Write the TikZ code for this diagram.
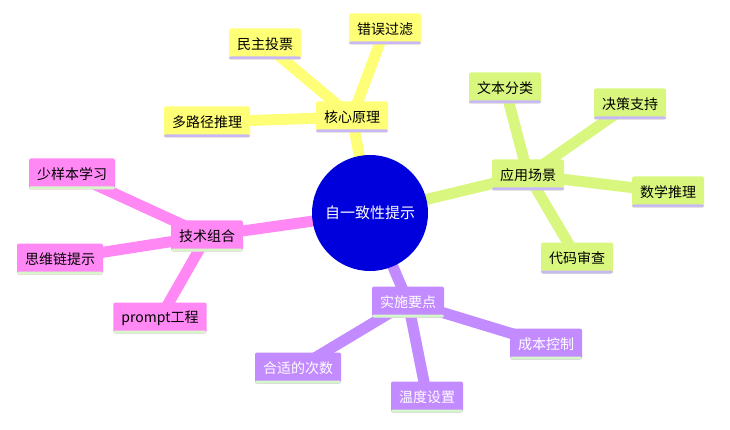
\documentclass[tikz,border=0pt]{standalone}
\usepackage{fontspec}
\setmainfont{Noto Sans CJK SC}
\usetikzlibrary{backgrounds}
\definecolor{cy}{HTML}{FFFF77}
\definecolor{cg}{HTML}{D9F77F}
\definecolor{cp}{HTML}{FF88F5}
\definecolor{cv}{HTML}{C28BFF}
\definecolor{bl}{HTML}{C8B8F8}
\definecolor{bg}{HTML}{D6F8C8}
\tikzset{
 box/.style={rectangle, rounded corners=2pt, minimum height=31pt, inner xsep=8pt, font=\fontsize{14pt}{16pt}\selectfont},
 yb/.style={box, fill=cy, path picture={\fill[bl] (path picture bounding box.south west) rectangle ([yshift=3pt]path picture bounding box.south east);}},
 gb/.style={box, fill=cg, path picture={\fill[bl] (path picture bounding box.south west) rectangle ([yshift=3pt]path picture bounding box.south east);}},
 pb/.style={box, fill=cp, path picture={\fill[bg] (path picture bounding box.south west) rectangle ([yshift=3pt]path picture bounding box.south east);}},
 vb/.style={box, fill=cv, text=white, path picture={\fill[bg] (path picture bounding box.south west) rectangle ([yshift=3pt]path picture bounding box.south east);}},
 ln/.style={line width=11pt},
}
\begin{document}
\begin{tikzpicture}[x=1pt,y=-1pt]
\useasboundingbox (0,0) rectangle (730,430);
\node[circle, fill={rgb,255:red,0;green,0;blue,220}, minimum size=116pt, text=white, font=\fontsize{15pt}{17pt}\selectfont] (c) at (370,213) {自一致性提示};
\node[yb] (h) at (352,117) {核心原理};
\node[yb] (h1) at (265,44) {民主投票};
\node[yb] (h2) at (385,29) {错误过滤};
\node[yb] (h3) at (207,122) {多路径推理};
\node[gb] (a) at (528,175) {应用场景};
\node[gb] (a1) at (505,88) {文本分类};
\node[gb] (a2) at (630,104) {决策支持};
\node[gb] (a3) at (668,192) {数学推理};
\node[gb] (a4) at (577,258) {代码审查};
\node[pb] (t) at (207,236) {技术组合};
\node[pb] (t1) at (72,174) {少样本学习};
\node[pb] (t2) at (60,259) {思维链提示};
\node[pb] (t3) at (160,318) {prompt工程};
\node[vb] (s) at (408,302) {实施要点};
\node[vb] (s1) at (546,344) {成本控制};
\node[vb] (s2) at (298,368) {合适的次数};
\node[vb] (s3) at (427,397) {温度设置};
\begin{scope}[on background layer]
\draw[ln,cy] (c.center) -- (h.center) (h.center) -- (h1.center) (h.center) -- (h2.center) (h.center) -- (h3.center);
\draw[ln,cg] (c.center) -- (a.center) (a.center) -- (a1.center) (a.center) -- (a2.center) (a.center) -- (a3.center) (a.center) -- (a4.center);
\draw[ln,cp] (c.center) -- (t.center) (t.center) -- (t1.center) (t.center) -- (t2.center) (t.center) -- (t3.center);
\draw[ln,cv] (c.center) -- (s.center) (s.center) -- (s1.center) (s.center) -- (s2.center) (s.center) -- (s3.center);
\end{scope}
\end{tikzpicture}
\end{document}
